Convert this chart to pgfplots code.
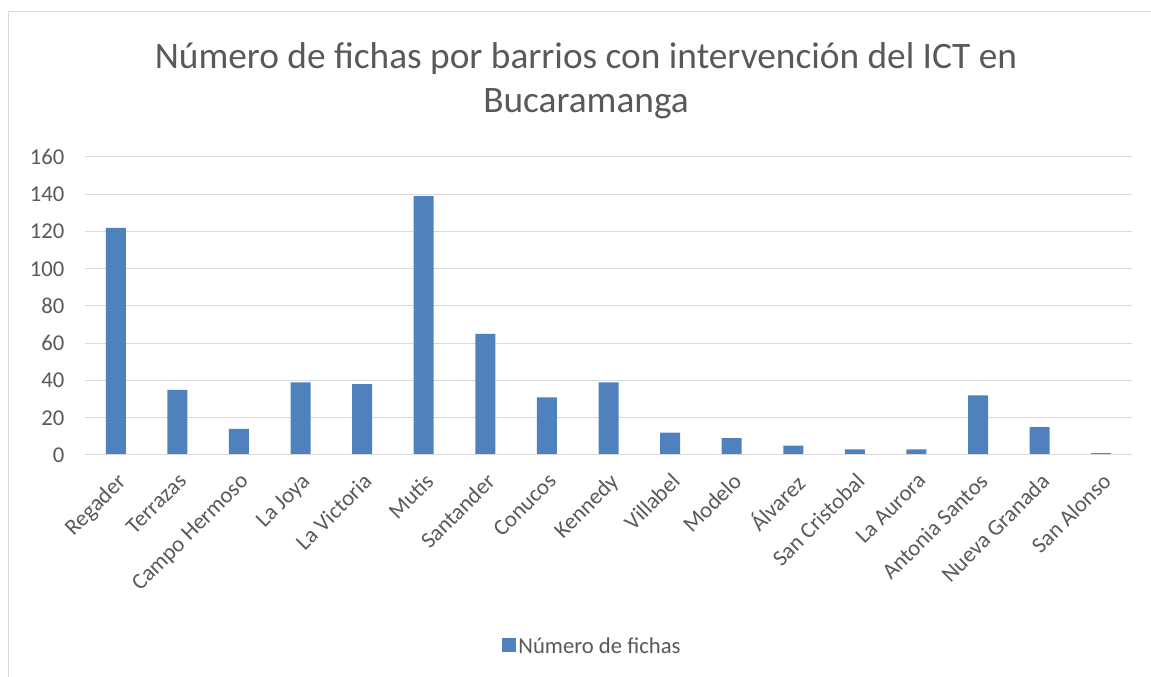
\documentclass[border=0pt]{standalone}
\usepackage{pgfplots}
\pgfplotsset{compat=1.18}
\usepackage{fontspec}
\setmainfont{Carlito}
\definecolor{barblue}{HTML}{4F81BD}
\definecolor{txtgray}{HTML}{595959}
\definecolor{gridgray}{HTML}{D9D9D9}
\begin{document}
\begin{tikzpicture}
\useasboundingbox (0,0) rectangle (863.25pt,507.75pt);
\draw[gridgray, line width=0.75pt] (6pt,0pt) -- (6pt,498.75pt) -- (863.25pt,498.75pt);
\node[txtgray, font=\fontsize{28}{34}\selectfont, align=center] at (439.5pt,447pt) {Número de fichas por barrios con intervención del ICT en\\[-1pt]Bucaramanga};
\begin{axis}[
  at={(63.75pt,166.5pt)}, anchor=south west,
  scale only axis,
  width=785.25pt, height=223.5pt,
  ymin=0, ymax=160, ytick={0,20,...,160},
  xmin=-0.5, xmax=16.5,
  xtick={0,...,16},
  xticklabels={Regader,Terrazas,Campo Hermoso,La Joya,La Victoria,Mutis,Santander,Conucos,Kennedy,Villabel,Modelo,Álvarez,San Cristobal,La Aurora,Antonia Santos,Nueva Granada,San Alonso},
  x tick label style={xshift=0pt, yshift=-12.5pt, rotate=45, anchor=north east, inner sep=0pt},
  tick label style={font=\fontsize{17}{20}\selectfont, text=txtgray},
  /pgf/number format/assume math mode=true,
  major tick length=0pt,
  ymajorgrids, grid style={gridgray, line width=0.75pt},
  axis line style={draw=none},
  yticklabel style={xshift=-12pt},
  ybar, bar width=15pt,
  legend style={at={(0.485,-0.603)}, anchor=north, draw=none, font=\fontsize{17}{20}\selectfont, text=txtgray, legend cell align=left, inner sep=0pt},
  legend image code/.code={\fill[#1] (2pt,-4pt) rectangle (12pt,6pt);},
]
\addplot[fill=barblue, draw=none] coordinates {
(0,122) (1,35) (2,14) (3,39) (4,38) (5,139) (6,65) (7,31) (8,39) (9,12) (10,9) (11,5) (12,3) (13,3) (14,32) (15,15) (16,1)};
\addlegendentry{Número de fichas}
\draw[gridgray, line width=1.2pt] (axis cs:-0.5,0) -- (axis cs:16.5,0);
\end{axis}
\end{tikzpicture}
\end{document}
